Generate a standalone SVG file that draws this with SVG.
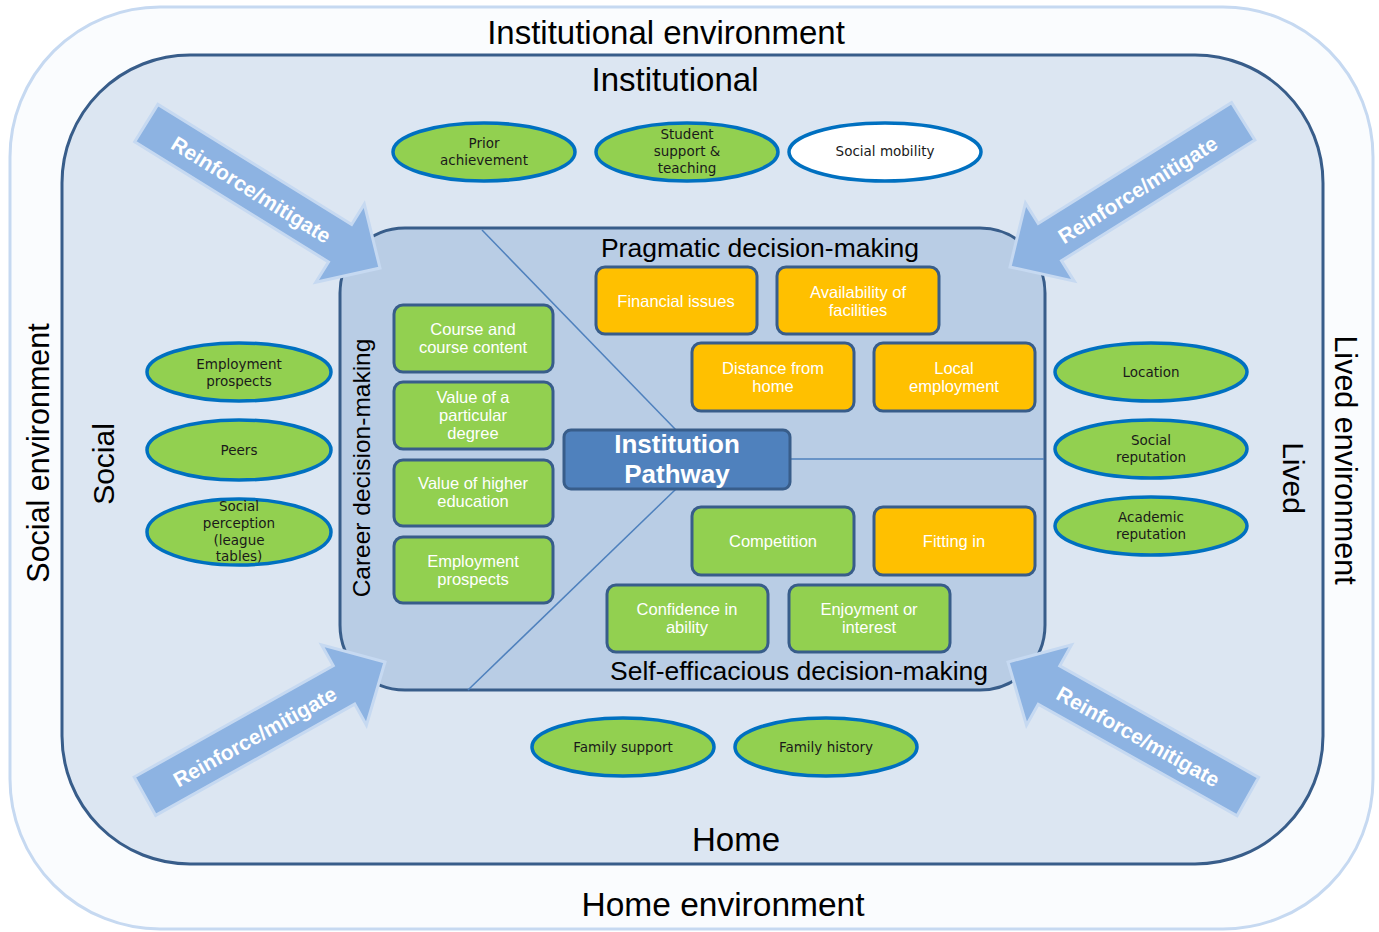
<svg xmlns="http://www.w3.org/2000/svg" width="1379" height="932" viewBox="0 0 1379 932">
<defs>
<style>
.lbl{font-family:"Liberation Sans",Arial,sans-serif;fill:#000}
.ell{fill:#92d050;stroke:#0070c0;stroke-width:3.5}
.ellw{fill:#ffffff;stroke:#0070c0;stroke-width:3.5}
.et{font-family:"DejaVu Sans","Liberation Sans",sans-serif;font-size:13.5px;fill:#1a1a1a;text-anchor:middle}
.rg{fill:#92d050;stroke:#385d8a;stroke-width:3}
.ro{fill:#ffc000;stroke:#385d8a;stroke-width:3}
.rt{font-family:"Liberation Sans",Arial,sans-serif;font-size:16.5px;fill:#ffffff;text-anchor:middle}
.arr{fill:#8db3e2;stroke:#c6d9f1;stroke-width:3;stroke-linejoin:miter}
.at{font-family:"Liberation Sans",Arial,sans-serif;font-size:21px;font-weight:bold;fill:#ffffff;text-anchor:middle}
.ln{stroke:#4f81bd;stroke-width:1.5;fill:none}
</style>
<path id="arrowShape" d="M0,0 L-47,-46 L-47,-22 L-275,-22 L-275,22 L-47,22 L-47,46 Z"/>
</defs>
<rect x="0" y="0" width="1379" height="932" fill="#ffffff"/>
<g id="outer">
<rect x="10" y="7" width="1363" height="922" rx="150" ry="150" fill="#fafcfe" stroke="#c6d9f1" stroke-width="3"/>
<text class="lbl" x="666" y="44" font-size="33" text-anchor="middle">Institutional environment</text>
<text class="lbl" x="723" y="916" font-size="33.5" text-anchor="middle">Home environment</text>
<text class="lbl" font-size="30.5" text-anchor="middle" transform="translate(49,453) rotate(-90)">Social environment</text>
<text class="lbl" font-size="30.5" text-anchor="middle" transform="translate(1335,460) rotate(90)">Lived environment</text>
</g>
<g id="inner">
<rect x="62" y="55" width="1261" height="809" rx="128" ry="128" fill="#dce6f2" stroke="#385d8a" stroke-width="3"/>
<text class="lbl" x="675" y="91" font-size="33" text-anchor="middle">Institutional</text>
<text class="lbl" x="736" y="851" font-size="33" text-anchor="middle">Home</text>
<text class="lbl" font-size="30" text-anchor="middle" transform="translate(114,464) rotate(-90)">Social</text>
<text class="lbl" font-size="30" text-anchor="middle" transform="translate(1283,478) rotate(90)">Lived</text>
</g>
<g id="center">
<rect x="340" y="228" width="705" height="462" rx="65" ry="65" fill="#b9cde5" stroke="#385d8a" stroke-width="3"/>
<text class="lbl" x="760" y="257" font-size="26.5" text-anchor="middle">Pragmatic decision-making</text>
<text class="lbl" x="799" y="680" font-size="26.5" text-anchor="middle">Self-efficacious decision-making</text>
<text class="lbl" font-size="24.5" text-anchor="middle" transform="translate(370,468) rotate(-90)">Career decision-making</text>
</g>
<g id="connectors">
<line class="ln" x1="482" y1="230" x2="676" y2="430"/>
<line class="ln" x1="676" y1="489" x2="468" y2="690"/>
<line class="ln" x1="790" y1="459" x2="1044" y2="459"/>
</g>
<g id="n-pathway">
<rect x="564" y="430" width="226" height="59" rx="7" fill="#4f81bd" stroke="#385d8a" stroke-width="3"/>
<text x="677" y="453" font-family="Liberation Sans,Arial,sans-serif" font-size="26" font-weight="bold" fill="#ffffff" text-anchor="middle">Institution</text>
<text x="677" y="483" font-family="Liberation Sans,Arial,sans-serif" font-size="26" font-weight="bold" fill="#ffffff" text-anchor="middle">Pathway</text>
</g>
<g id="n-course"><rect class="rg" x="394" y="305" width="159" height="67" rx="9"/><text class="rt" x="473" y="335">Course and</text><text class="rt" x="473" y="353">course content</text></g>
<g id="n-value-degree"><rect class="rg" x="394" y="382" width="159" height="67" rx="9"/><text class="rt" x="473" y="403">Value of a</text><text class="rt" x="473" y="421">particular</text><text class="rt" x="473" y="439">degree</text></g>
<g id="n-value-he"><rect class="rg" x="394" y="460" width="159" height="66" rx="9"/><text class="rt" x="473" y="489">Value of higher</text><text class="rt" x="473" y="507">education</text></g>
<g id="n-employ-c"><rect class="rg" x="394" y="537" width="159" height="66" rx="9"/><text class="rt" x="473" y="567">Employment</text><text class="rt" x="473" y="585">prospects</text></g>
<g id="n-financial"><rect class="ro" x="596" y="267" width="161" height="67" rx="9"/><text class="rt" x="676" y="307">Financial issues</text></g>
<g id="n-availability"><rect class="ro" x="777" y="267" width="162" height="67" rx="9"/><text class="rt" x="858" y="298">Availability of</text><text class="rt" x="858" y="316">facilities</text></g>
<g id="n-distance"><rect class="ro" x="692" y="343" width="162" height="68" rx="9"/><text class="rt" x="773" y="374">Distance from</text><text class="rt" x="773" y="392">home</text></g>
<g id="n-local"><rect class="ro" x="874" y="343" width="161" height="68" rx="9"/><text class="rt" x="954" y="374">Local</text><text class="rt" x="954" y="392">employment</text></g>
<g id="n-competition"><rect class="rg" x="692" y="507" width="162" height="68" rx="9"/><text class="rt" x="773" y="547">Competition</text></g>
<g id="n-fitting"><rect class="ro" x="874" y="507" width="161" height="68" rx="9"/><text class="rt" x="954" y="547">Fitting in</text></g>
<g id="n-confidence"><rect class="rg" x="607" y="585" width="161" height="67" rx="9"/><text class="rt" x="687" y="615">Confidence in</text><text class="rt" x="687" y="633">ability</text></g>
<g id="n-enjoyment"><rect class="rg" x="789" y="585" width="161" height="67" rx="9"/><text class="rt" x="869" y="615">Enjoyment or</text><text class="rt" x="869" y="633">interest</text></g>
<g id="e-prior"><ellipse class="ell" cx="484" cy="152" rx="91" ry="29"/><text class="et" x="484" y="148">Prior</text><text class="et" x="484" y="165">achievement</text></g>
<g id="e-support"><ellipse class="ell" cx="687" cy="152" rx="91" ry="29"/><text class="et" x="687" y="139">Student</text><text class="et" x="687" y="156">support &amp;</text><text class="et" x="687" y="173">teaching</text></g>
<g id="e-mobility"><ellipse class="ellw" cx="885" cy="152" rx="96" ry="29"/><text class="et" x="885" y="156">Social mobility</text></g>
<g id="e-employment"><ellipse class="ell" cx="239" cy="372" rx="92" ry="29"/><text class="et" x="239" y="369">Employment</text><text class="et" x="239" y="386">prospects</text></g>
<g id="e-peers"><ellipse class="ell" cx="239" cy="450" rx="92" ry="30"/><text class="et" x="239" y="455">Peers</text></g>
<g id="e-perception"><ellipse class="ell" cx="239" cy="532" rx="92" ry="33"/><text class="et" x="239" y="511">Social</text><text class="et" x="239" y="528">perception</text><text class="et" x="239" y="545">(league</text><text class="et" x="239" y="561">tables)</text></g>
<g id="e-location"><ellipse class="ell" cx="1151" cy="372" rx="96" ry="29"/><text class="et" x="1151" y="377">Location</text></g>
<g id="e-socialrep"><ellipse class="ell" cx="1151" cy="449" rx="96" ry="29"/><text class="et" x="1151" y="445">Social</text><text class="et" x="1151" y="462">reputation</text></g>
<g id="e-academic"><ellipse class="ell" cx="1151" cy="526" rx="96" ry="29"/><text class="et" x="1151" y="522">Academic</text><text class="et" x="1151" y="539">reputation</text></g>
<g id="e-famsupport"><ellipse class="ell" cx="623" cy="747" rx="91" ry="29"/><text class="et" x="623" y="752">Family support</text></g>
<g id="e-famhistory"><ellipse class="ell" cx="826" cy="747" rx="91" ry="29"/><text class="et" x="826" y="752">Family history</text></g>
<g id="arrows">
<use href="#arrowShape" class="arr" transform="translate(380,268) rotate(31.8)"/>
<use href="#arrowShape" class="arr" transform="translate(1010,267) rotate(148)"/>
<use href="#arrowShape" class="arr" transform="translate(1008,662) rotate(209.3)"/>
<use href="#arrowShape" class="arr" transform="translate(385,662) rotate(-29.2)"/>
<text class="at" transform="translate(251,190) rotate(31.8)" y="7">Reinforce/mitigate</text>
<text class="at" transform="translate(1138,190) rotate(-32)" y="7">Reinforce/mitigate</text>
<text class="at" transform="translate(1138,737) rotate(29.3)" y="7">Reinforce/mitigate</text>
<text class="at" transform="translate(255,737) rotate(-29.2)" y="7">Reinforce/mitigate</text>
</g>
</svg>
